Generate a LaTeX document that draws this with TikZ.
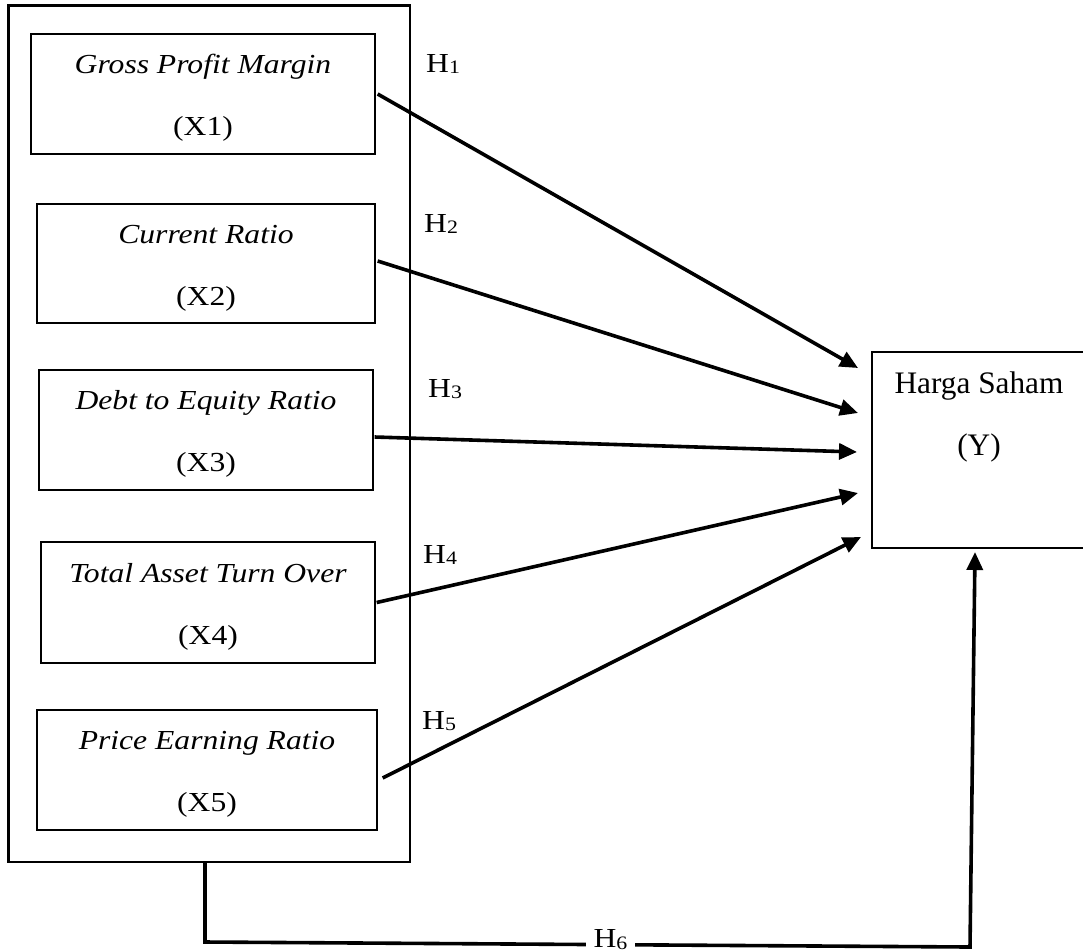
\documentclass[tikz,border=0pt]{standalone}
\usepackage{fontspec}
\setmainfont{Liberation Serif}
\newfontfamily\widefont{Liberation Serif}[FakeStretch=1.15]
\usetikzlibrary{arrows.meta}
\newcommand\hsub[2][-1.5pt]{\raisebox{#1}{\fontsize{19}{19}\selectfont #2}}
\newcommand\topstrut{\rule{0pt}{27pt}}
\begin{document}
\begin{tikzpicture}[x=1pt,y=-1pt,
  wide/.style={font=\widefont\fontsize{27.5}{62}\selectfont},
  varbox/.style={wide, draw, line width=1.3pt, inner sep=0pt, align=center},
  outerbox/.style={draw, line width=2.4pt, inner sep=0pt},
  ybox/.style={draw, line width=1.3pt, inner sep=0pt},
  ytext/.style={font=\fontsize{31.3}{62}\selectfont, align=center, inner sep=0pt},
  hlab/.style={wide, anchor=base west, inner sep=0pt},
  link/.style={line width=3.6pt, -{Triangle[length=18pt,width=16pt]}}]
\useasboundingbox (0,0) rectangle (1083,951);
\clip (0,0) rectangle (1083,951);
% outer group box
\node[outerbox, minimum width=401.5pt, minimum height=856.5pt] (grp) at (209.25,433.75) {};
% variable boxes
\node[varbox, minimum width=344pt, minimum height=120pt] (b1) at (203,94) {\topstrut\textit{Gross Profit Margin}\\(X1)};
\node[varbox, minimum width=338pt, minimum height=119pt] (b2) at (206,263.5) {\topstrut\textit{Current Ratio}\\(X2)};
\node[varbox, minimum width=334pt, minimum height=120pt] (b3) at (206,430) {\topstrut\textit{Debt to Equity Ratio}\\(X3)};
\node[varbox, minimum width=334pt, minimum height=121pt] (b4) at (208,602.5) {\topstrut\textit{Total Asset Turn Over}\\(X4)};
\node[varbox, minimum width=340pt, minimum height=120pt] (b5) at (207,770) {\topstrut\textit{Price Earning Ratio}\\(X5)};
% dependent variable
\node[ybox, minimum width=214pt, minimum height=196pt] (y) at (979,450) {};
\node[ytext] (ylab) at (979,416.5) {Harga Saham\\(Y)};
% hypothesis labels
\node[hlab] (h1) at (426,72) {H\hsub{1}};
\node[hlab] (h2) at (424,232) {H\hsub{2}};
\node[hlab] (h3) at (428,397) {H\hsub{3}};
\node[hlab] (h4) at (423,563) {H\hsub{4}};
\node[hlab] (h5) at (422,729) {H\hsub{5}};
% arrow tips
\coordinate (t1) at (858,368);
\coordinate (t2) at (858,413);
\coordinate (t3) at (857,452);
\coordinate (t4) at (858,493);
\coordinate (t5) at (861,537);
\draw[link] ([xshift=2pt]b1.east) -- (t1);
\draw[link] ([xshift=2pt,yshift=2.5pt]b2.east) -- (t2);
\draw[link] ([xshift=1pt,yshift=-7pt]b3.east) -- (t3);
\draw[link] ([xshift=1pt]b4.east) -- (t4);
\draw[link] ([xshift=5pt,yshift=-8pt]b5.east) -- (t5);
% H6 connector
\coordinate (c1) at (205,942);
\coordinate (c2) at (970,947);
\coordinate (t6) at (975,552);
\draw[link] ([xshift=-4.25pt]grp.south) -- (c1)
  -- node[wide, pos=0.53, yshift=5pt, fill=white, inner xsep=8pt, inner ysep=1pt] (h6) {H\hsub{6}} (c2)
  -- (t6);
\end{tikzpicture}
\end{document}
